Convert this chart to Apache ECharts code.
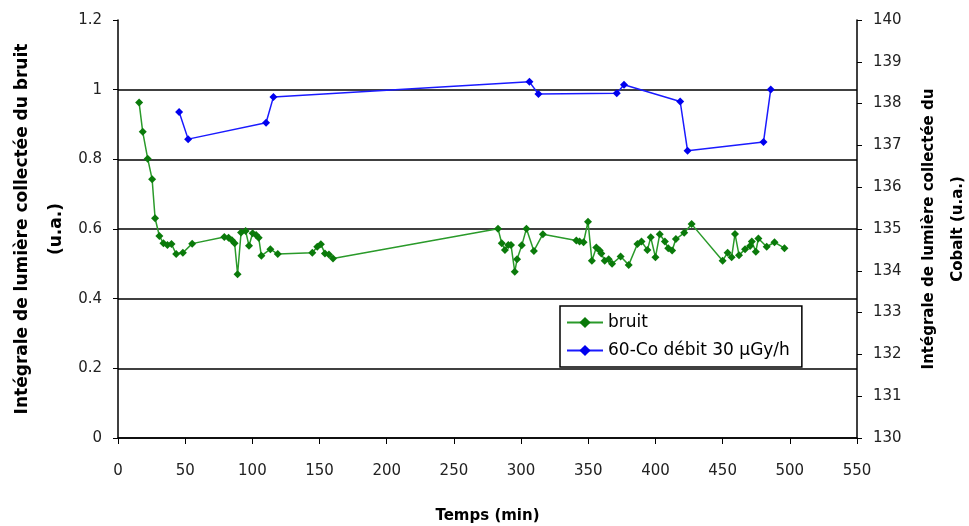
<!DOCTYPE html>
<html><head><meta charset="utf-8">
<script src="https://cdn.jsdelivr.net/npm/echarts@6/dist/echarts.min.js"></script>
<style>html,body{margin:0;padding:0;background:#fff}#c{width:969px;height:526px}</style>
</head><body><div id="c"></div>
<script>
// Temps (min) and values
const bruitTime = [15.7,18.4,22.1,25.4,27.6,30.8,33.8,36.8,39.8,43.3,48.3,55.2,79.1,82.3,84.8,86.8,89,91.6,95,97.5,100.2,102.8,104.7,106.7,113.4,118.9,144.6,148.3,151,154,157,160,282.8,285.6,288,290.5,292.5,295.3,297,300.5,304,309.5,316.2,341.1,343.5,346.5,349.8,352.7,356,358.5,359.7,362.2,365.2,367.7,374.1,380.1,386.6,389.6,394,396.5,400,403.2,407,409.5,412.4,415.2,421.4,426.9,450,453.7,456.7,459.2,462.2,466.7,470.4,471.7,474.7,476.6,482.8,488.6,496];
const bruitValue = [0.963,0.879,0.802,0.743,0.631,0.58,0.559,0.554,0.557,0.528,0.532,0.558,0.577,0.575,0.568,0.559,0.470,0.590,0.594,0.552,0.588,0.583,0.575,0.523,0.542,0.528,0.532,0.549,0.556,0.530,0.527,0.515,0.601,0.559,0.540,0.554,0.554,0.477,0.513,0.553,0.601,0.537,0.585,0.567,0.564,0.562,0.621,0.509,0.547,0.538,0.530,0.509,0.513,0.500,0.521,0.497,0.557,0.564,0.540,0.576,0.519,0.585,0.564,0.545,0.538,0.571,0.589,0.614,0.509,0.532,0.519,0.586,0.525,0.542,0.551,0.564,0.535,0.573,0.549,0.562,0.545];
const cobaltTime = [45.5,52.2,110.2,115.7,306.2,312.9,371.2,376.6,418.4,423.9,480.4,485.8];
const cobaltValue = [137.8,137.15,137.54,138.16,138.52,138.23,138.25,138.45,138.05,136.87,137.08,138.34];
const leftTicks = [0,0.2,0.4,0.6,0.8,1,1.2];
const rightTicks = [130,131,132,133,134,135,136,137,138,139,140];
const xTicks = [0,50,100,150,200,250,300,350,400,450,500,550];

const bruitData = bruitTime.map((t,i)=>[t,bruitValue[i]]);
const cobaltData = cobaltTime.map((t,i)=>[t,cobaltValue[i]]);
const FONT = '"DejaVu Sans", "Liberation Sans", Arial, sans-serif';
const chart = echarts.init(document.getElementById('c'), null, {renderer:'canvas'});
chart.setOption({
  animation:false,
  backgroundColor:'#fff',
  grid:{left:118,right:112,top:20,bottom:88,containLabel:false,outerBoundsMode:'none'},
  legend:{
    orient:'vertical', left:560, top:306,
    padding:[8,12,8,6], itemGap:11, itemWidth:36, itemHeight:14,
    borderColor:'#000', borderWidth:1.5, backgroundColor:'#fff', borderRadius:0,
    textStyle:{fontFamily:FONT,fontSize:17,color:'#000'},
    data:['bruit','60-Co débit 30 µGy/h']
  },
  xAxis:{
    type:'value', min:0, max:550, interval:50,
    name:'Temps (min)', nameLocation:'middle', nameGap:71, nameMoveOverlap:false,
    nameTextStyle:{fontFamily:FONT,fontWeight:'bold',fontSize:15,color:'#000'},
    axisLine:{onZero:false,lineStyle:{color:'#000',width:1.5}},
    axisTick:{length:6,lineStyle:{color:'#000'}},
    axisLabel:{fontFamily:FONT,fontSize:15,color:'#222',margin:26,
      formatter:v=>xTicks.includes(v)?String(v):''},
    splitLine:{show:false}
  },
  yAxis:[{
    type:'value', min:0, max:1.2, interval:0.2, position:'left',
    name:'Intégrale de lumière collectée du bruit\n(u.a.)', nameLocation:'middle', nameGap:44, nameRotate:90, nameMoveOverlap:false,
    nameTextStyle:{fontFamily:FONT,fontWeight:'bold',fontSize:17,color:'#000',lineHeight:34},
    axisLine:{show:true,lineStyle:{color:'#000',width:1.5}},
    axisTick:{show:true,length:5,lineStyle:{color:'#000'}},
    axisLabel:{fontFamily:FONT,fontSize:15,color:'#222',margin:16,
      formatter:v=>{const t=leftTicks.find(x=>Math.abs(x-v)<1e-9);return t===undefined?'':String(t);}},
    splitLine:{show:true,lineStyle:{color:['#000','#000','#000','#000','#000','#000','rgba(0,0,0,0)'],width:1.5}}
  },{
    type:'value', min:130, max:140, interval:1, position:'right',
    name:'Intégrale de lumière collectée du\nCobalt (u.a.)', nameLocation:'middle', nameGap:58, nameRotate:90, nameMoveOverlap:false,
    nameTextStyle:{fontFamily:FONT,fontWeight:'bold',fontSize:15,color:'#000',lineHeight:29},
    axisLine:{show:true,lineStyle:{color:'#000',width:1.5}},
    axisTick:{show:true,length:5,lineStyle:{color:'#000'}},
    axisLabel:{fontFamily:FONT,fontSize:15,color:'#222',margin:16,
      formatter:v=>rightTicks.includes(v)?String(v):''},
    splitLine:{show:false}
  }],
  series:[{
    name:'bruit', type:'line', yAxisIndex:0, data:bruitData,
    symbol:'diamond', symbolSize:8, showSymbol:true,
    lineStyle:{color:'#2a9a2a',width:1.5}, itemStyle:{color:'#0a7a0a'}
  },{
    name:'60-Co débit 30 µGy/h', type:'line', yAxisIndex:1, data:cobaltData,
    symbol:'diamond', symbolSize:8, showSymbol:true,
    lineStyle:{color:'#1a1aff',width:1.5}, itemStyle:{color:'#0000ee'}
  }]
});
</script></body></html>
